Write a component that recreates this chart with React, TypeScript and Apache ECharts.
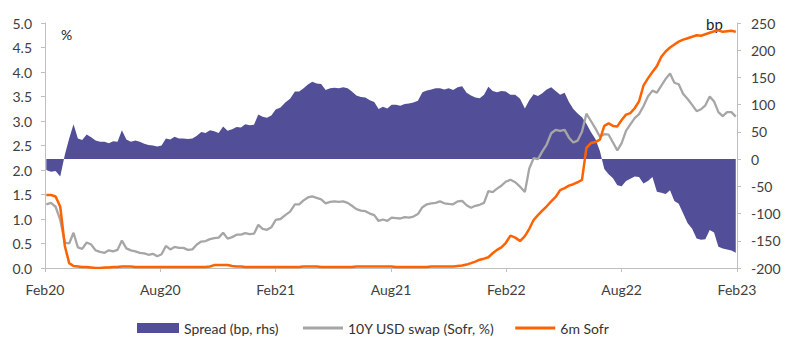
import React, { useEffect, useRef } from "react";
import * as echarts from "echarts";

// Weekly observations starting from this date
const startDate = "2020-02-03";
const tickLabels = ["Feb20", "Aug20", "Feb21", "Aug21", "Feb22", "Aug22", "Feb23"];

// Spread, bp (rhs)
const spread = [
  -20, -23, -22, -32, 8, 38, 64, 38, 35, 45, 40, 34, 32, 32, 29, 33, 32, 53, 36, 32, 34, 32, 28, 26, 25, 23, 25, 38, 36, 41, 38,
  38, 37, 38, 43, 50, 48, 53, 51, 48, 60, 52, 55, 59, 58, 64, 62, 63, 82, 78, 76, 80, 91, 95, 104, 111, 124, 124, 130, 137, 142, 139,
  138, 127, 130, 131, 130, 132, 130, 124, 117, 114, 113, 108, 105, 92, 96, 93, 100, 100, 98, 101, 102, 104, 107, 123, 126, 128, 130, 130, 128, 130,
  127, 132, 134, 122, 117, 113, 112, 118, 133, 125, 123, 125, 124, 118, 118, 111, 93, 108, 119, 116, 121, 128, 132, 125, 118, 122, 105, 92, 84, 77, 65,
  50, 37, 15, -18, -28, -35, -48, -50, -40, -36, -32, -33, -45, -40, -33, -60, -62, -64, -57, -77, -82, -100, -118, -128, -146, -148, -147, -130, -135, -161, -164, -166, -168, -172,
];

// 10Y USD swap (Sofr), %
const swap10y = [
  1.30, 1.33, 1.25, 0.98, 0.52, 0.50, 0.72, 0.42, 0.39, 0.52, 0.48, 0.36, 0.33, 0.31, 0.36, 0.34, 0.37, 0.56, 0.40, 0.36, 0.34, 0.31, 0.30, 0.27, 0.29, 0.24, 0.28, 0.45, 0.38, 0.43, 0.41,
  0.41, 0.37, 0.38, 0.48, 0.54, 0.55, 0.59, 0.61, 0.62, 0.72, 0.60, 0.63, 0.68, 0.68, 0.71, 0.69, 0.70, 0.88, 0.80, 0.78, 0.83, 0.98, 1.00, 1.08, 1.15, 1.30, 1.30, 1.38, 1.44, 1.46, 1.43,
  1.40, 1.32, 1.35, 1.36, 1.35, 1.36, 1.33, 1.27, 1.20, 1.17, 1.16, 1.11, 1.08, 0.96, 0.99, 0.96, 1.03, 1.02, 1.01, 1.04, 1.03, 1.05, 1.10, 1.24, 1.30, 1.32, 1.33, 1.36, 1.32, 1.31,
  1.30, 1.36, 1.37, 1.28, 1.23, 1.27, 1.29, 1.33, 1.57, 1.55, 1.62, 1.68, 1.76, 1.80, 1.75, 1.66, 1.55, 2.03, 2.24, 2.22, 2.38, 2.52, 2.75, 2.82, 2.80, 2.82, 2.66, 2.56, 2.60, 2.78, 3.15,
  3.00, 2.85, 2.68, 2.73, 2.72, 2.56, 2.40, 2.55, 2.80, 2.93, 3.06, 3.14, 3.30, 3.50, 3.62, 3.58, 3.72, 3.86, 3.97, 3.78, 3.75, 3.55, 3.45, 3.33, 3.20, 3.24, 3.32, 3.50, 3.40, 3.18, 3.10, 3.18, 3.18, 3.09,
];

// 6m Sofr, %
const sofr6m = [
  1.49, 1.49, 1.46, 1.25, 0.45, 0.10, 0.04, 0.03, 0.02, 0.02, 0.01, 0.00, 0.00, 0.01, 0.01, 0.02, 0.02, 0.03, 0.03, 0.03, 0.02, 0.02, 0.02, 0.02, 0.02, 0.02, 0.02, 0.02, 0.02, 0.02, 0.02,
  0.02, 0.02, 0.02, 0.02, 0.02, 0.02, 0.03, 0.06, 0.06, 0.06, 0.06, 0.04, 0.03, 0.03, 0.02, 0.02, 0.02, 0.02, 0.02, 0.02, 0.02, 0.02, 0.02, 0.02, 0.02, 0.02, 0.02, 0.03, 0.03, 0.03, 0.03,
  0.02, 0.02, 0.02, 0.02, 0.02, 0.02, 0.02, 0.02, 0.03, 0.03, 0.03, 0.03, 0.03, 0.03, 0.03, 0.03, 0.03, 0.02, 0.02, 0.02, 0.02, 0.02, 0.02, 0.02, 0.02, 0.03, 0.03, 0.03, 0.03, 0.03,
  0.03, 0.04, 0.05, 0.07, 0.10, 0.13, 0.17, 0.19, 0.22, 0.30, 0.37, 0.42, 0.51, 0.66, 0.62, 0.55, 0.65, 0.80, 0.98, 1.08, 1.17, 1.26, 1.36, 1.45, 1.59, 1.63, 1.68, 1.71, 1.75, 1.80, 2.45,
  2.55, 2.57, 2.62, 2.90, 2.95, 2.90, 2.89, 3.02, 3.13, 3.16, 3.26, 3.40, 3.72, 3.87, 4.00, 4.12, 4.31, 4.42, 4.50, 4.56, 4.62, 4.66, 4.69, 4.72, 4.75, 4.74, 4.77, 4.80, 4.83, 4.85, 4.82, 4.83, 4.84, 4.82,
];

const leftTicks = { min: 0, max: 5, interval: 0.5 };
const rightTicks = { min: -200, max: 250, interval: 50 };

function monthOffset(t: number): number {
  const d = new Date(t);
  const y = d.getUTCFullYear();
  const m = d.getUTCMonth();
  const day = d.getUTCDate();
  const dim = new Date(Date.UTC(y, m + 1, 0)).getUTCDate();
  return (y - 2020) * 12 + (m - 1) + (day - 1) / dim;
}

const FONT = "Lato";
const AXIS_COLOR = "#bfbfbf";
const TEXT_COLOR = "#404040";

export default function App() {
  const ref = useRef<HTMLDivElement>(null);
  useEffect(() => {
    if (!ref.current) return;
    const chart = echarts.init(ref.current, undefined, { renderer: "svg" });
    const t0 = Date.parse(startDate + "T00:00:00Z");
    const xs = spread.map((_, i) => monthOffset(t0 + i * 7 * 86400000));
    const sSpread = xs.map((x, i) => [x, spread[i]]);
    const sSwap = xs.map((x, i) => [x, swap10y[i]]);
    const sSofr = xs.map((x, i) => [x, sofr6m[i]]);

    const axisCommon = {
      axisLine: { show: true, lineStyle: { color: AXIS_COLOR, width: 1 } },
      axisTick: { show: true, length: 4, lineStyle: { color: AXIS_COLOR } },
      splitLine: { show: false },
    };

    chart.setOption({
      animation: false,
      textStyle: { fontFamily: FONT },
      grid: { left: 45, right: 63, top: 23, bottom: 84 },
      xAxis: {
        type: "value",
        min: 0,
        max: 36,
        interval: 6,
        ...axisCommon,
        axisLine: { show: true, onZero: false, lineStyle: { color: AXIS_COLOR } },
        axisLabel: {
          color: TEXT_COLOR,
          fontSize: 14,
          fontFamily: FONT,
          margin: 14,
          formatter: (v: number) => tickLabels[Math.round(v / 6)] ?? "",
        },
      },
      yAxis: [
        {
          type: "value",
          ...leftTicks,
          position: "left",
          ...axisCommon,
          axisLabel: {
            color: TEXT_COLOR,
            fontSize: 14,
            fontFamily: FONT,
            margin: 13,
            formatter: (v: number) => v.toFixed(1),
          },
        },
        {
          type: "value",
          ...rightTicks,
          position: "right",
          ...axisCommon,
          axisLabel: { color: TEXT_COLOR, fontSize: 14, fontFamily: FONT, margin: 14 },
        },
      ],
      legend: [
        {
          left: 132,
          top: 316,
          icon: "rect",
          itemWidth: 42,
          itemHeight: 10,
          itemGap: 25,
          textStyle: { color: "#333", fontSize: 14, fontFamily: FONT },
          data: ["Spread (bp, rhs)"],
        },
        {
          left: 298,
          top: 316,
          icon: "rect",
          itemWidth: 40,
          itemHeight: 3,
          itemGap: 21,
          textStyle: { color: "#333", fontSize: 14, fontFamily: FONT },
          data: ["10Y USD swap (Sofr, %)", "6m Sofr"],
        },
      ],
      graphic: [
        { type: "text", left: 61, top: 27, style: { text: "%", fontSize: 14, fontFamily: FONT, fill: "#222" } },
        { type: "text", left: 706, top: 16, style: { text: "bp", fontSize: 15, fontFamily: FONT, fill: "#222" } },
      ],
      series: [
        {
          name: "Spread (bp, rhs)",
          type: "line",
          yAxisIndex: 1,
          data: sSpread,
          symbol: "none",
          lineStyle: { width: 0, color: "#524f98" },
          itemStyle: { color: "#524f98" },
          areaStyle: { color: "#524f98", opacity: 1, origin: 0 },
          z: 1,
        },
        {
          name: "10Y USD swap (Sofr, %)",
          type: "line",
          yAxisIndex: 0,
          data: sSwap,
          symbol: "none",
          lineStyle: { width: 2.3, color: "#a6a6a6" },
          itemStyle: { color: "#a6a6a6" },
          z: 2,
        },
        {
          name: "6m Sofr",
          type: "line",
          yAxisIndex: 0,
          data: sSofr,
          symbol: "none",
          lineStyle: { width: 2.5, color: "#ff6200" },
          itemStyle: { color: "#ff6200" },
          z: 3,
        },
      ],
    });
    return () => chart.dispose();
  }, []);
  return (
    <div
      ref={ref}
      style={{ position: "absolute", left: 0, top: 0, width: 800, height: 352, background: "#fff" }}
    />
  );
}
